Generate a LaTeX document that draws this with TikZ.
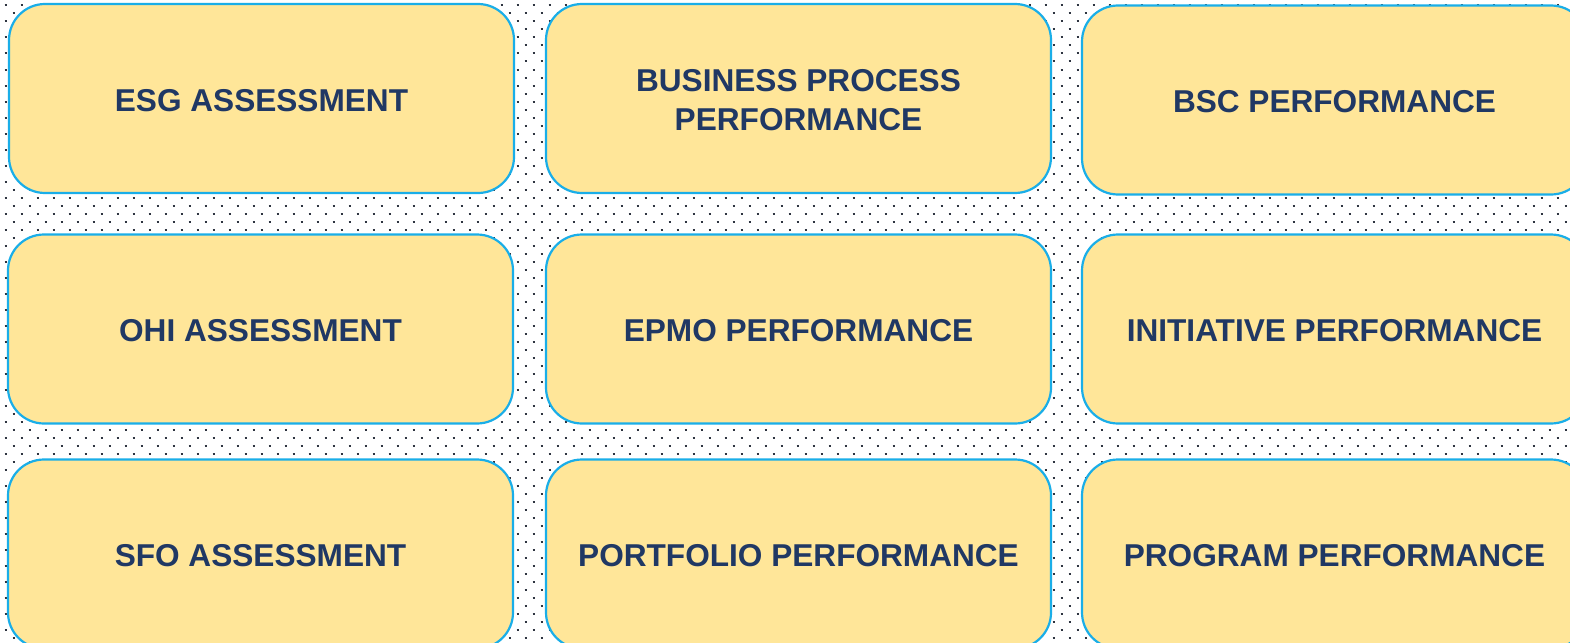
\documentclass[tikz,border=0pt]{standalone}
\usepackage{fontspec}
\setmainfont{Liberation Sans}
\definecolor{boxfill}{HTML}{FFE699}
\definecolor{boxline}{HTML}{1AAEE8}
\definecolor{txtcol}{HTML}{203864}
\definecolor{dotcol}{HTML}{2E3440}
\newcommand\lowtxt[1]{\raisebox{-2pt}[\height][\depth]{#1}}
\tikzset{
  card/.style={draw=boxline, line width=2.2pt, fill=boxfill, rounded corners=36pt,
    minimum width=505pt, minimum height=189pt, inner sep=0pt, align=center,
    text=txtcol, font=\fontsize{31.6}{39}\selectfont\bfseries},
  dotrow/.style={draw=dotcol, line width=2pt, dash pattern=on 2pt off 14pt},
}
\begin{document}
\begin{tikzpicture}[x=1pt,y=-1pt]
\useasboundingbox (0,0) rectangle (1570,642);
\clip (0,0) rectangle (1570,642);
\fill[white] (0,0) rectangle (1570,642);
\foreach \j in {0,...,80} {
  \pgfmathsetmacro{\xs}{4.5+8*mod(\j,2)}
  \pgfmathsetmacro{\yy}{5.5+8*\j}
  \path[dotrow] (\xs,\yy) -- (1575,\yy);
}
% row 1
\node[card] (esg) at (261.5,98.5) {\lowtxt{ESG ASSESSMENT}};
\node[card] (bpp) at (798.5,98.5) {\lowtxt{BUSINESS PROCESS}\\\lowtxt{PERFORMANCE}};
\node[card] (bsc) at (1334.5,100) {\lowtxt{BSC PERFORMANCE}};
% row 2
\node[card] (ohi) at (260.5,329) {\lowtxt{OHI ASSESSMENT}};
\node[card] (epmo) at (798.5,329) {\lowtxt{EPMO PERFORMANCE}};
\node[card] (init) at (1334.5,329) {\lowtxt{INITIATIVE PERFORMANCE}};
% row 3
\node[card] (sfo) at (260.5,554) {\lowtxt{SFO ASSESSMENT}};
\node[card] (port) at (798.5,554) {\lowtxt{PORTFOLIO PERFORMANCE}};
\node[card] (prog) at (1334.5,554) {\lowtxt{PROGRAM PERFORMANCE}};
\end{tikzpicture}
\end{document}
